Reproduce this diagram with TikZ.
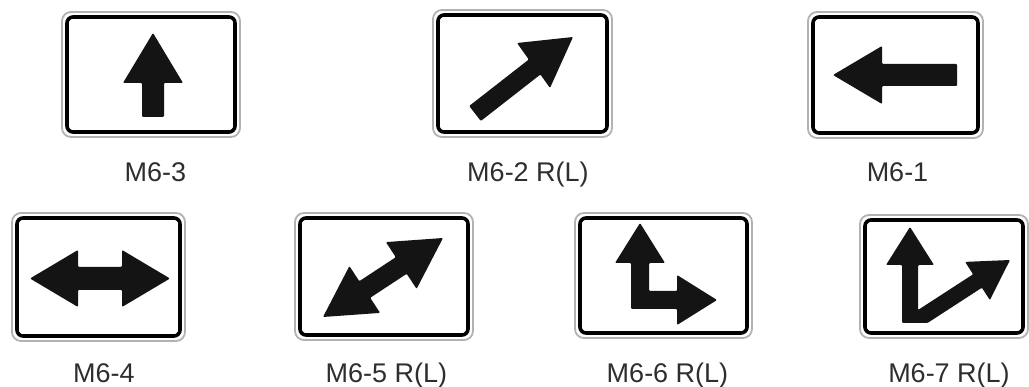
\documentclass[tikz,border=0pt]{standalone}
\usepackage{fontspec}
\setmainfont{Liberation Sans}
\usepackage{xcolor}
\usetikzlibrary{arrows,positioning,shapes}

\begin{document}
\begin{tikzpicture}[
            x = 1pt, y = -1pt, % pixel units, y down
            semithick, % line style
            rounded corners = 1pt
        ]

        \tikzstyle{plate}=[
            draw = black!30,
            line width = 1.8pt,
            fill = white,
            rectangle,
            rounded corners = 9pt,
            inner sep = 0pt
        ]
        \tikzstyle{rim}=[
            draw = black,
            line width = 3.6pt,
            rectangle,
            rounded corners = 6pt,
            inner sep = 0pt
        ]
        \tikzstyle{sign}=[
            fill = black!92,
            draw = none
        ]
        \tikzstyle{caption}=[
            anchor = base,
            text = black!82,
            font = \fontsize{27}{30}\selectfont
        ]

        \useasboundingbox (0,0) rectangle (1029,387);

        % Plates
        \node[plate, minimum width=178pt, minimum height=125pt] (a) [at={(151,74.5)}] {};
        \node[plate, minimum width=179pt, minimum height=127pt] (b) [at={(522.5,73.5)}] {};
        \node[plate, minimum width=175pt, minimum height=126pt] (c) [at={(895.5,75)}] {};
        \node[plate, minimum width=173pt, minimum height=128pt] (d) [at={(98.5,277)}] {};
        \node[plate, minimum width=178pt, minimum height=127pt] (e) [at={(384,276.5)}] {};
        \node[plate, minimum width=177pt, minimum height=125pt] (f) [at={(663.5,275.5)}] {};
        \node[plate, minimum width=168pt, minimum height=123pt] (g) [at={(944,276.5)}] {};
        % Black borders
        \node[rim, minimum width=168pt, minimum height=115pt] (ra) [at={(a)}] {};
        \node[rim, minimum width=169pt, minimum height=117pt] (rb) [at={(b)}] {};
        \node[rim, minimum width=165pt, minimum height=116pt] (rc) [at={(c)}] {};
        \node[rim, minimum width=163pt, minimum height=118pt] (rd) [at={(d)}] {};
        \node[rim, minimum width=168pt, minimum height=117pt] (re) [at={(e)}] {};
        \node[rim, minimum width=167pt, minimum height=115pt] (rf) [at={(f)}] {};
        \node[rim, minimum width=158pt, minimum height=113pt] (rg) [at={(g)}] {};

        % Arrows
        \fill[sign] (153,33) -- (183,83) -- (164,83) -- (164,117) -- (142,117)
            -- (142,83) -- (123,83) -- cycle;
        \fill[sign] (573,37) -- (550,88) -- (540.4,74.5) -- (480.8,121)
            -- (469.2,106) -- (528.8,59.5) -- (517,43) -- cycle;
        \fill[sign] (833,75) -- (882,46) -- (882,64) -- (957,64) -- (957,86)
            -- (882,86) -- (882,104) -- cycle;
        \fill[sign] (30,278.5) -- (78,250) -- (78,267) -- (122,267) -- (122,250)
            -- (170,278.5) -- (122,307) -- (122,290) -- (78,290) -- (78,307) -- cycle;
        \fill[sign] (443,238) -- (416.6,288.9) -- (406.7,273.8) -- (370.2,297.8)
            -- (380.1,312.9) -- (323,317) -- (349.4,266.1) -- (359.3,281.2)
            -- (395.8,257.2) -- (385.9,242.1) -- cycle;
        \fill[sign] (640,223) -- (665,263) -- (649,263) -- (649,291) -- (677,291)
            -- (677,275) -- (717,300) -- (677,325) -- (677,309) -- (631,309)
            -- (631,263) -- (615,263) -- cycle;
        \fill[sign] (910,227) -- (934,265) -- (918,265) -- (918,310) -- (973.1,274.3)
            -- (965.1,261.9) -- (1010,260) -- (989.9,300.1) -- (981.9,287.7)
            -- (927.5,323) -- (902,323) -- (902,265) -- (886,265) -- cycle;

        % Captions
        \node[caption] (la) [at={(155.5,182)}] {M6-3};
        \node[caption] (lb) [at={(528,182)}] {M6-2 R(L)};
        \node[caption] (lc) [at={(897.5,182)}] {M6-1};
        \node[caption] (ld) [at={(104,383)}] {M6-4};
        \node[caption] (le) [at={(386.5,383)}] {M6-5 R(L)};
        \node[caption] (lf) [at={(667.5,383)}] {M6-6 R(L)};
        \node[caption] (lg) [at={(949,383)}] {M6-7 R(L)};

\end{tikzpicture}
\end{document}
